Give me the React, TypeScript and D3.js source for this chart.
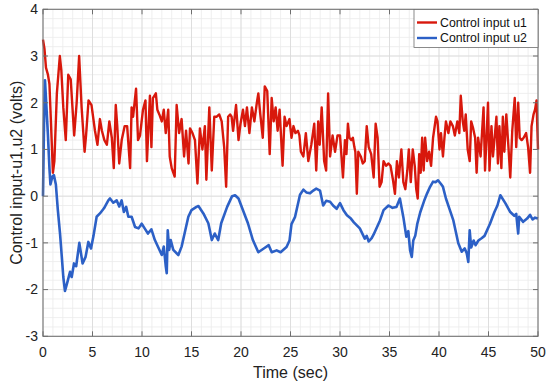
import React from "react";
import * as d3 from "d3";

const xTicks = [0, 5, 10, 15, 20, 25, 30, 35, 40, 45, 50];
const yTicks = [-3, -2, -1, 0, 1, 2, 3, 4];
const legendLabels = ["Control input u1", "Control input u2"];

const u1: [number, number][] = [
  [0,3.35],[0.15,3.15],[0.3,2.75],[0.5,2.6],[0.65,2.4],[0.8,1.6],[1.0,0.5],[1.15,0.75],[1.4,2.2],[1.7,3.0],[1.85,2.7],[2.05,1.9],[2.3,1.2],[2.55,2.6],[2.8,2.5],[3.15,1.3],[3.4,2.0],[3.65,3.0],[3.9,1.9],[4.2,0.95],[4.35,1.3],[4.6,2.05],[4.9,1.95],[5.25,1.4],[5.5,1.1],[5.75,1.65],[5.95,1.4],[6.2,1.2],[6.45,1.1],[6.7,1.6],[6.95,1.25],[7.15,0.6],[7.35,1.95],[7.5,1.5],[7.7,0.7],[7.95,1.2],[8.25,1.5],[8.5,1.5],[8.8,0.6],[8.95,1.9],[9.1,1.7],[9.4,2.3],[9.6,1.2],[9.8,1.3],[10.1,1.85],[10.35,2.05],[10.5,0.75],[10.8,2.15],[10.95,1.05],[11.1,2.1],[11.4,2.2],[11.55,1.85],[11.75,1.75],[12.0,1.6],[12.2,1.85],[12.4,1.35],[12.65,1.85],[12.8,0.85],[13.0,0.6],[13.3,0.42],[13.5,1.95],[13.75,1.35],[14.0,1.65],[14.25,0.85],[14.45,1.4],[14.7,0.7],[14.85,1.45],[15.1,1.35],[15.35,1.2],[15.6,0.27],[15.85,1.45],[16.1,1.0],[16.35,1.5],[16.5,0.35],[16.8,1.9],[17.05,0.55],[17.3,1.7],[17.55,1.7],[17.8,1.75],[18.05,1.6],[18.3,1.05],[18.5,0.2],[18.7,1.7],[18.9,1.75],[19.05,1.7],[19.2,1.4],[19.5,1.95],[19.75,1.2],[19.95,1.55],[20.2,1.85],[20.4,1.5],[20.6,1.9],[20.85,1.35],[21.1,1.9],[21.35,1.6],[21.6,2.0],[21.75,2.2],[21.95,1.75],[22.2,1.25],[22.4,2.35],[22.65,2.25],[22.9,0.9],[23.1,2.1],[23.3,1.6],[23.5,1.9],[23.7,1.4],[23.9,1.85],[24.2,0.65],[24.4,1.7],[24.6,1.5],[24.9,1.65],[25.1,1.25],[25.3,1.5],[25.5,1.35],[25.75,1.4],[25.9,1.3],[26.05,0.95],[26.3,0.85],[26.55,1.35],[26.8,0.75],[27.1,1.1],[27.4,1.55],[27.6,0.55],[27.8,1.6],[27.95,1.1],[28.15,1.9],[28.4,0.75],[28.6,0.55],[28.8,2.2],[29.0,0.85],[29.25,1.3],[29.5,0.95],[29.75,1.3],[30.0,1.3],[30.3,0.4],[30.5,1.2],[30.65,0.9],[30.8,1.55],[30.95,1.25],[31.15,1.2],[31.3,1.25],[31.45,1.05],[31.55,0.95],[31.7,0.05],[31.85,0.95],[32.1,0.85],[32.3,0.7],[32.5,0.75],[32.7,1.5],[32.9,1.05],[33.15,0.9],[33.4,0.4],[33.6,1.55],[33.8,1.25],[34.0,0.2],[34.2,0.3],[34.4,0.75],[34.65,0.65],[34.9,0.7],[35.1,0.65],[35.35,0.35],[35.55,0.05],[35.75,0.75],[35.95,0.4],[36.2,1.0],[36.4,0.3],[36.6,0.15],[36.8,0.55],[36.95,1.0],[37.15,0.3],[37.35,1.0],[37.55,0.65],[37.7,0.15],[37.85,-0.05],[38.0,0.9],[38.15,0.5],[38.3,1.25],[38.45,0.55],[38.6,1.25],[38.8,0.75],[39.0,0.95],[39.2,0.65],[39.4,1.25],[39.7,1.7],[39.85,1.6],[40.05,1.0],[40.2,1.35],[40.4,0.85],[40.55,1.25],[40.7,1.6],[40.95,1.35],[41.15,1.6],[41.4,1.5],[41.6,1.3],[41.85,1.6],[42.05,1.35],[42.2,2.15],[42.4,1.6],[42.55,1.4],[42.7,1.75],[42.9,1.0],[43.1,0.75],[43.25,1.6],[43.45,1.45],[43.65,1.25],[43.8,0.5],[43.95,1.25],[44.2,0.85],[44.5,1.9],[44.65,0.55],[44.8,1.25],[44.95,2.0],[45.1,0.55],[45.3,1.5],[45.45,0.85],[45.6,1.2],[45.8,1.7],[45.95,0.7],[46.1,1.5],[46.3,0.6],[46.45,1.7],[46.6,0.95],[46.8,1.75],[47.0,1.1],[47.2,0.4],[47.4,1.4],[47.65,2.1],[47.8,1.05],[48.0,2.0],[48.15,1.25],[48.35,1.2],[48.55,1.25],[48.8,1.35],[49.0,1.05],[49.2,0.5],[49.35,1.5],[49.55,1.75],[49.7,1.85],[49.85,2.05],[50.0,1.0]
];

const u2: [number, number][] = [
  [0,0],[0.1,1.5],[0.2,2.48],[0.35,1.9],[0.5,1.3],[0.65,0.6],[0.75,0.25],[0.95,0.42],[1.1,0.45],[1.3,0.25],[1.5,-0.3],[1.72,-0.8],[1.9,-1.3],[2.05,-1.73],[2.22,-2.03],[2.45,-1.85],[2.73,-1.62],[2.9,-1.73],[3.13,-1.44],[3.35,-1.5],[3.67,-1.0],[4.0,-1.44],[4.3,-1.3],[4.58,-0.98],[4.85,-1.12],[5.1,-0.85],[5.42,-0.44],[5.75,-0.37],[6.16,-0.26],[6.6,-0.09],[6.77,-0.05],[7.1,-0.14],[7.44,-0.09],[7.7,-0.22],[7.94,-0.09],[8.17,-0.34],[8.4,-0.23],[8.62,-0.44],[8.95,-0.44],[9.3,-0.66],[9.65,-0.69],[9.97,-0.59],[10.3,-0.7],[10.6,-0.8],[10.95,-0.71],[11.3,-0.94],[11.65,-1.1],[12.0,-1.26],[12.2,-1.08],[12.4,-1.5],[12.5,-1.65],[12.6,-0.73],[12.75,-1.15],[12.9,-0.94],[13.16,-1.15],[13.67,-1.26],[14.0,-1.08],[14.3,-0.8],[14.68,-0.44],[15.0,-0.3],[15.5,-0.23],[15.7,-0.21],[16.2,-0.37],[16.7,-0.58],[16.85,-0.73],[17.05,-0.94],[17.35,-0.8],[17.7,-0.94],[18.0,-0.58],[18.6,-0.23],[19.1,0.0],[19.4,0.02],[19.75,-0.05],[20.2,-0.3],[20.7,-0.58],[21.2,-0.94],[21.75,-1.2],[22.3,-1.12],[22.8,-1.05],[23.1,-1.2],[23.6,-1.16],[24.0,-1.2],[24.6,-1.09],[24.9,-0.95],[25.1,-0.6],[25.45,-0.45],[25.96,0.03],[26.3,0.14],[26.6,0.08],[26.97,0.06],[27.3,0.12],[27.6,0.16],[27.98,0.12],[28.3,-0.2],[28.6,-0.1],[29.0,-0.12],[29.3,-0.2],[29.66,-0.27],[30.0,-0.15],[30.35,-0.3],[30.7,-0.41],[31.1,-0.48],[31.4,-0.56],[32.0,-0.69],[32.5,-0.91],[32.7,-0.85],[32.9,-0.97],[33.2,-0.9],[33.4,-0.82],[34.04,-0.52],[34.4,-0.3],[34.9,-0.2],[35.3,-0.25],[35.7,-0.23],[36.05,-0.05],[36.4,-0.45],[36.7,-0.87],[36.9,-0.75],[37.08,-1.16],[37.25,-1.3],[37.4,-0.95],[37.6,-0.85],[37.8,-0.6],[38.1,-0.35],[38.5,-0.1],[38.8,0.06],[39.1,0.2],[39.4,0.31],[39.65,0.3],[39.9,0.34],[40.2,0.26],[40.4,0.2],[40.7,-0.05],[41.1,-0.3],[41.45,-0.52],[41.95,-1.01],[42.3,-1.19],[42.6,-1.12],[42.8,-1.22],[42.96,-1.41],[43.1,-0.73],[43.25,-1.1],[43.5,-0.95],[43.7,-1.05],[43.98,-0.95],[44.3,-0.9],[44.6,-0.85],[45.15,-0.59],[45.6,-0.34],[45.9,-0.2],[46.2,0.02],[46.7,-0.15],[47.2,-0.34],[47.6,-0.42],[47.8,-0.38],[48.0,-0.8],[48.1,-0.44],[48.5,-0.55],[48.9,-0.48],[49.2,-0.4],[49.45,-0.5],[49.7,-0.46],[50.0,-0.48]
];

const W = 550, H = 384;
const L = 43, R = 538, T = 9.3, B = 336.3;
const FONT = "'Liberation Sans', Arial, Helvetica, sans-serif";
const C1 = "#d8180c";
const C2 = "#2c60c6";
const AX = "#6e6e6e";

export default function App() {
  const x = d3.scaleLinear().domain([0, 50]).range([L, R]);
  const y = d3.scaleLinear().domain([-3, 4]).range([B, T]);
  const line = d3.line<[number, number]>().x(d => x(d[0])).y(d => y(d[1]));
  const minorX = d3.range(0, 51, 1);
  const minorY = d3.range(-3, 4.001, 0.2);

  return (
    <svg width={W} height={H} style={{ position: "absolute", left: 0, top: 0, background: "#fff" }}>
      <rect x={0} y={0} width={W} height={H} fill="#fff" />
      <rect x={L} y={T} width={R - L} height={B - T} fill="#fff" />
      {minorX.map(v => (
        <line key={"mx" + v} x1={x(v)} x2={x(v)} y1={T} y2={B} stroke="#ebebeb" strokeWidth={0.8} />
      ))}
      {minorY.map((v, i) => (
        <line key={"my" + i} x1={L} x2={R} y1={y(v)} y2={y(v)} stroke="#ebebeb" strokeWidth={0.8} />
      ))}
      {xTicks.map(v => (
        <line key={"gx" + v} x1={x(v)} x2={x(v)} y1={T} y2={B} stroke="#d9d9d9" strokeWidth={0.8} />
      ))}
      {yTicks.map(v => (
        <line key={"gy" + v} x1={L} x2={R} y1={y(v)} y2={y(v)} stroke="#d9d9d9" strokeWidth={0.8} />
      ))}
      <path d={line(u1) || ""} fill="none" stroke={C1} strokeWidth={2.4} strokeLinejoin="round" />
      <path d={line(u2) || ""} fill="none" stroke={C2} strokeWidth={2.6} strokeLinejoin="round" />
      <rect x={L} y={T} width={R - L} height={B - T} fill="none" stroke={AX} strokeWidth={1} />
      {xTicks.map(v => (
        <g key={"tx" + v}>
          <line x1={x(v)} x2={x(v)} y1={B} y2={B - 5} stroke={AX} />
          <line x1={x(v)} x2={x(v)} y1={T} y2={T + 5} stroke={AX} />
          <text x={x(v)} y={356.5} textAnchor="middle" fontFamily={FONT} fontSize={14} fill="#222">{v}</text>
        </g>
      ))}
      {yTicks.map(v => (
        <g key={"ty" + v}>
          <line x1={L} x2={L + 5} y1={y(v)} y2={y(v)} stroke={AX} />
          <line x1={R} x2={R - 5} y1={y(v)} y2={y(v)} stroke={AX} />
          <text x={38} y={y(v)} dy="0.35em" textAnchor="end" fontFamily={FONT} fontSize={14} fill="#222">{v}</text>
        </g>
      ))}
      <text x={(L + R) / 2} y={378} textAnchor="middle" fontFamily={FONT} fontSize={16} fill="#222">Time (sec)</text>
      <text transform={`translate(22,${(T + B) / 2}) rotate(-90)`} textAnchor="middle" fontFamily={FONT} fontSize={16} fill="#222">Control input-u1,u2 (volts)</text>
      <g>
        <rect x={414} y={9.5} width={124} height={38} fill="#fff" stroke={AX} strokeWidth={0.8} />
        {legendLabels.map((lab, i) => (
          <g key={lab}>
            <line x1={417} x2={437} y1={22.5 + i * 15.5} y2={22.5 + i * 15.5} stroke={i === 0 ? C1 : C2} strokeWidth={2.4} />
            <text x={440} y={22.5 + i * 15.5} dy="0.35em" fontFamily={FONT} fontSize={12.3} fill="#111">{lab}</text>
          </g>
        ))}
      </g>
    </svg>
  );
}
